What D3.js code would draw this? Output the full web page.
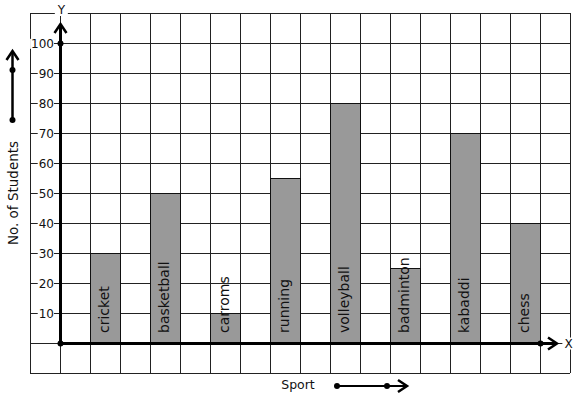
<!DOCTYPE html>
<html>
<meta charset="utf-8">
<title>No. of Students by Sport</title>
<style>
	body { margin: 0; background-color: #ffffff; }
	text { font-family: "DejaVu Sans", sans-serif; fill: #111; }
	.grid line { stroke: #222; stroke-width: 1; shape-rendering: crispEdges; }
	.bar { fill: #999999; stroke: #111; stroke-width: 1; shape-rendering: crispEdges; }
</style>
<body>
<div id="chart"></div>
<script src="https://cdn.jsdelivr.net/npm/d3@7"></script>
<script>

	// Data
	var sports = ["cricket", "basketball", "carroms", "running", "volleyball", "badminton", "kabaddi", "chess"];
	var students = [30, 50, 10, 55, 80, 25, 70, 40];
	var yTicks = [10, 20, 30, 40, 50, 60, 70, 80, 90, 100];

	var width = 577, height = 399;

	var svg = d3.select("#chart").append("svg")
		.attr("width", width)
		.attr("height", height);

	// Scales: x in grid cells (origin = 0), y in students
	var xScale = d3.scaleLinear().domain([0, 1]).range([60, 90]);
	var yScale = d3.scaleLinear().domain([0, 100]).range([343, 43]);

	var xMin = -1, xMax = 17, yMin = -10, yMax = 110;

	// Grid
	var grid = svg.append("g").attr("class", "grid");
	grid.selectAll(".v").data(d3.range(xMin, xMax + 1)).enter().append("line")
		.attr("x1", function (d) { return xScale(d) + 0.5; })
		.attr("x2", function (d) { return xScale(d) + 0.5; })
		.attr("y1", yScale(yMax))
		.attr("y2", yScale(yMin));
	grid.selectAll(".h").data(d3.range(yMin, yMax + 1, 10)).enter().append("line")
		.attr("y1", function (d) { return yScale(d) + 0.5; })
		.attr("y2", function (d) { return yScale(d) + 0.5; })
		.attr("x1", xScale(xMin))
		.attr("x2", xScale(xMax));

	// Bars
	svg.selectAll(".bar").data(students).enter().append("rect")
		.attr("class", "bar")
		.attr("x", function (d, i) { return xScale(1 + 2 * i) + 0.5; })
		.attr("y", function (d) { return yScale(d) + 0.5; })
		.attr("width", xScale(1) - xScale(0))
		.attr("height", function (d) { return yScale(0) - yScale(d); });

	// Bar labels, rotated
	svg.selectAll(".blabel").data(sports).enter().append("text")
		.attr("transform", function (d, i) {
			return "translate(" + (xScale(1.5 + 2 * i) + 4) + "," + (yScale(0) - 10) + ") rotate(-90)";
		})
		.attr("font-size", 14)
		.text(function (d) { return d; });

	// Y tick labels with white background
	var ticks = svg.selectAll(".ytick").data(yTicks).enter().append("g")
		.attr("transform", function (d) { return "translate(54," + (yScale(d) + 0.5) + ")"; });
	ticks.append("text")
		.attr("text-anchor", "end")
		.attr("dy", "0.36em")
		.attr("font-size", 12)
		.text(function (d) { return d; })
		.each(function () {
			var b = this.getBBox();
			d3.select(this.parentNode).insert("rect", "text")
				.attr("x", b.x - 1).attr("y", b.y + 2)
				.attr("width", b.width + 1).attr("height", b.height - 4)
				.attr("fill", "#fff");
		});

	// Axes with arrows
	function arrowHead(g, x, y, dir) {
		var p = dir === "up"
			? [[x - 6, y + 9], [x, y], [x + 6, y + 9]]
			: [[x - 9, y - 6], [x, y], [x - 9, y + 6]];
		g.append("path").attr("d", d3.line()(p))
			.attr("fill", "none").attr("stroke", "#000").attr("stroke-width", 2.5);
	}

	// Axis letters with white background
	function letter(txt, x, y, size) {
		var t = svg.append("text").attr("x", x).attr("y", y).attr("text-anchor", "middle")
			.attr("font-size", size).text(txt);
		var b = t.node().getBBox();
		svg.insert("rect", "text").attr("x", b.x - 2).attr("y", b.y + 1)
			.attr("width", b.width + 4).attr("height", b.height - 2).attr("fill", "#fff");
	}
	letter("Y", 61.5, 14, 12);
	letter("X", 568.5, 347.5, 12);

	var axes = svg.append("g");
	axes.append("line")
		.attr("x1", xScale(0) + 0.5).attr("x2", xScale(0) + 0.5)
		.attr("y1", yScale(0)).attr("y2", 25)
		.attr("stroke", "#000").attr("stroke-width", 3);
	arrowHead(axes, xScale(0) + 0.5, 24, "up");
	axes.append("line")
		.attr("x1", xScale(0)).attr("x2", 556)
		.attr("y1", yScale(0) + 0.5).attr("y2", yScale(0) + 0.5)
		.attr("stroke", "#000").attr("stroke-width", 3);
	arrowHead(axes, 557, yScale(0) + 0.5, "right");
	[[xScale(0) + 0.5, yScale(0) + 0.5], [xScale(0) + 0.5, yScale(100) + 0.5], [xScale(16) + 0.5, yScale(0) + 0.5]]
		.forEach(function (p) {
			axes.append("circle").attr("cx", p[0]).attr("cy", p[1]).attr("r", 3).attr("fill", "#000");
		});

	// Left title with arrow
	svg.append("text")
		.attr("transform", "translate(18,193) rotate(-90)")
		.attr("text-anchor", "middle")
		.attr("font-size", 13.5)
		.text("No. of Students");
	var la = svg.append("g");
	la.append("line").attr("x1", 12.5).attr("x2", 12.5).attr("y1", 120).attr("y2", 52)
		.attr("stroke", "#000").attr("stroke-width", 2.5);
	arrowHead(la, 12.5, 51, "up");
	[120, 70].forEach(function (y) {
		la.append("circle").attr("cx", 12.5).attr("cy", y).attr("r", 3).attr("fill", "#000");
	});

	// Bottom title with arrow
	svg.append("text").attr("x", 298).attr("y", 389).attr("text-anchor", "middle")
		.attr("font-size", 12.5).text("Sport");
	var ba = svg.append("g");
	ba.append("line").attr("x1", 337).attr("x2", 405).attr("y1", 386).attr("y2", 386)
		.attr("stroke", "#000").attr("stroke-width", 2);
	arrowHead(ba, 407, 386, "right");
	[337, 387].forEach(function (x) {
		ba.append("circle").attr("cx", x).attr("cy", 386).attr("r", 3).attr("fill", "#000");
	});

</script>
</body>
</html>
